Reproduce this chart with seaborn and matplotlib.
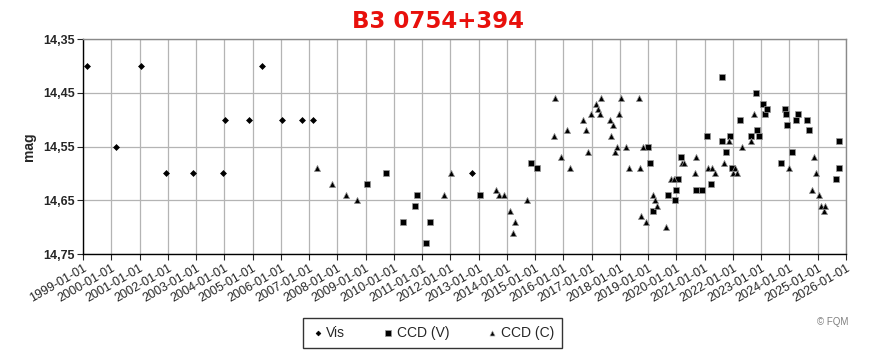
import numpy as np
import pandas as pd
import matplotlib
matplotlib.use("Agg")
import matplotlib.pyplot as plt
import matplotlib.dates as mdates
from matplotlib.ticker import FuncFormatter
import seaborn as sns

# ---- data (decimal years, magnitudes) ----
vis_years = [1999.13, 2000.16, 2001.04, 2001.93, 2002.88, 2003.94, 2004.02, 2004.88,
             2005.32, 2006.03, 2006.74, 2007.15, 2012.75]
vis_mags = [14.40, 14.55, 14.40, 14.60, 14.60, 14.60, 14.50, 14.50,
            14.40, 14.50, 14.50, 14.50, 14.60]

ccdv_years = [2009.05, 2009.72, 2010.32, 2010.75, 2010.81, 2011.13, 2011.28, 2013.05,
              2014.85, 2015.07, 2018.99, 2019.06, 2019.17, 2019.69, 2019.95, 2019.98,
              2020.05, 2020.16, 2020.71, 2020.89, 2021.08, 2021.22, 2021.60, 2021.61,
              2021.75, 2021.89, 2021.97, 2022.25, 2022.64, 2022.82, 2022.85, 2022.92,
              2023.07, 2023.14, 2023.20, 2023.70, 2023.84, 2023.88, 2023.91, 2024.09,
              2024.23, 2024.30, 2024.62, 2024.69, 2025.65, 2025.76, 2025.76]
ccdv_mags = [14.62, 14.60, 14.69, 14.66, 14.64, 14.73, 14.69, 14.64,
             14.58, 14.59, 14.55, 14.58, 14.67, 14.64, 14.65, 14.63,
             14.61, 14.57, 14.63, 14.63, 14.53, 14.62, 14.54, 14.42,
             14.56, 14.53, 14.59, 14.50, 14.53, 14.45, 14.52, 14.53,
             14.47, 14.49, 14.48, 14.58, 14.48, 14.49, 14.51, 14.56,
             14.50, 14.49, 14.50, 14.52, 14.61, 14.59, 14.54]

ccdc_years = [2007.28, 2007.82, 2008.32, 2008.71, 2011.77, 2012.02, 2013.61, 2013.72,
              2013.90, 2014.11, 2014.23, 2014.30, 2014.72, 2015.67, 2015.70, 2015.93,
              2016.13, 2016.24, 2016.69, 2016.80, 2016.87, 2016.98, 2017.14, 2017.21,
              2017.29, 2017.34, 2017.65, 2017.68, 2017.75, 2017.82, 2017.90, 2017.97,
              2018.04, 2018.23, 2018.32, 2018.69, 2018.71, 2018.74, 2018.82, 2018.92,
              2019.18, 2019.25, 2019.32, 2019.63, 2019.82, 2019.91, 2020.20, 2020.28,
              2020.66, 2020.69, 2021.12, 2021.26, 2021.36, 2021.68, 2021.86, 2022.00,
              2022.07, 2022.14, 2022.32, 2022.64, 2022.74, 2023.98, 2024.80, 2024.87,
              2024.94, 2025.04, 2025.12, 2025.22, 2025.26]
ccdc_mags = [14.59, 14.62, 14.64, 14.65, 14.64, 14.60, 14.63, 14.64,
             14.64, 14.67, 14.71, 14.69, 14.65, 14.53, 14.46, 14.57,
             14.52, 14.59, 14.50, 14.52, 14.56, 14.49, 14.47, 14.48,
             14.49, 14.46, 14.50, 14.53, 14.51, 14.56, 14.55, 14.49,
             14.46, 14.55, 14.59, 14.46, 14.59, 14.68, 14.55, 14.69,
             14.64, 14.65, 14.66, 14.70, 14.61, 14.61, 14.58, 14.58,
             14.60, 14.57, 14.59, 14.59, 14.60, 14.58, 14.54, 14.60,
             14.59, 14.60, 14.55, 14.54, 14.49, 14.59, 14.63, 14.57,
             14.60, 14.64, 14.66, 14.67, 14.66]

series_names = ["Vis", "CCD (V)", "CCD (C)"]
y_ticks = [14.35, 14.45, 14.55, 14.65, 14.75]
tick_years = list(range(1999, 2027))
title_text = "B3 0754+394"


def to_date(y):
    yr = int(np.floor(y))
    return pd.Timestamp(yr, 1, 1) + pd.Timedelta(days=(y - yr) * 365.25)


frames = []
for name, ys, ms in zip(series_names,
                        [vis_years, ccdv_years, ccdc_years],
                        [vis_mags, ccdv_mags, ccdc_mags]):
    frames.append(pd.DataFrame({"date": [to_date(v) for v in ys],
                                "mag": ms, "series": name}))
df = pd.concat(frames, ignore_index=True)

sns.set_style("white")
plt.rcParams["font.family"] = ["Liberation Sans", "DejaVu Sans"]

fig = plt.figure(figsize=(8.75, 3.55), dpi=100)
ax = fig.add_axes([83 / 875, 1 - 254 / 355, (846 - 83) / 875, (254 - 39) / 355])

markers = {"Vis": "D", "CCD (V)": "s", "CCD (C)": "^"}
sizes_map = {"Vis": 9, "CCD (V)": 24, "CCD (C)": 20}
for name in series_names:
    sub = df[df["series"] == name]
    sns.scatterplot(data=sub, x="date", y="mag", ax=ax, marker=markers[name],
                    s=sizes_map[name], color="black",
                    edgecolor="#9a9a9a" if name != "Vis" else "black",
                    linewidth=0.5, label=name, zorder=3, legend=False)

ax.set_xlim(pd.Timestamp(1999, 1, 1), pd.Timestamp(2026, 1, 1))
ax.set_ylim(14.75, 14.35)
ax.set_yticks(y_ticks)
ax.yaxis.set_major_formatter(FuncFormatter(lambda v, p: f"{v:.2f}".replace(".", ",")))
ax.set_xticks([pd.Timestamp(y, 1, 1) for y in tick_years])
ax.xaxis.set_major_formatter(mdates.DateFormatter("%Y-%m-%d"))

ax.grid(True, color="#b4b4b4", linewidth=0.9)
ax.set_axisbelow(True)
for side in ["top", "right"]:
    ax.spines[side].set_color("#8a8a8a")
    ax.spines[side].set_linewidth(1.0)
for side in ["left", "bottom"]:
    ax.spines[side].set_color("black")
    ax.spines[side].set_linewidth(1.0)

ax.tick_params(axis="y", which="major", direction="out", length=4, width=0.8,
               labelsize=9, pad=2, left=True)
ax.tick_params(axis="x", which="major", direction="out", length=4, width=0.8,
               labelsize=9, pad=2, bottom=True)
for lbl in ax.get_yticklabels():
    lbl.set_fontweight("bold")
for lbl in ax.get_xticklabels():
    lbl.set_rotation(30)
    lbl.set_ha("right")
    lbl.set_rotation_mode("anchor")

ax.set_xlabel("")
ax.set_ylabel("mag", fontsize=10, fontweight="bold", labelpad=5)

fig.text(0.5, 1 - 22 / 355, title_text, ha="center", va="center",
         color="#e8100c", fontsize=16.5, fontweight="bold", family="DejaVu Sans")

handles, labels = ax.get_legend_handles_labels()
leg = fig.legend(handles, labels, loc="center", bbox_to_anchor=(432.5 / 875, 1 - 333 / 355),
                 ncol=3, frameon=True, fancybox=False, fontsize=10,
                 handletextpad=0.1, columnspacing=2.6, markerscale=0.8,
                 borderpad=0.6, handlelength=1.0)
leg.get_frame().set_edgecolor("black")
leg.get_frame().set_linewidth(1.0)

fig.text(848 / 875, 1 - 322 / 355, "© FQM", ha="right", va="center",
         color="#808080", fontsize=7)

fig.savefig("out.png", dpi=100)
